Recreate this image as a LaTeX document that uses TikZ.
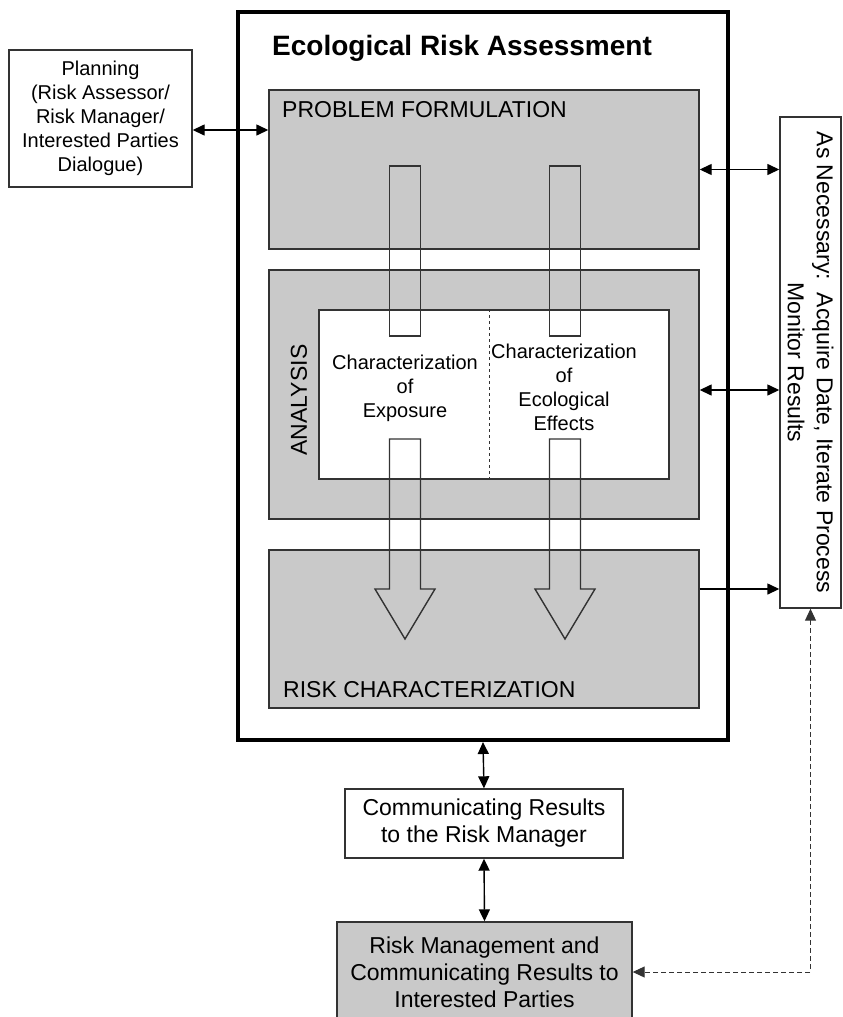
\documentclass[tikz,border=0pt]{standalone}
\usepackage{fontspec}
\setmainfont{Liberation Sans}
\usepackage{xcolor}
\colorlet{colPanel}{gray!42}
\colorlet{colLine}{black!80}
\usetikzlibrary{arrows.meta}

\begin{document}
\begin{tikzpicture}[x=1pt, y=-1pt, >={Triangle[length=12pt,width=11pt]},
	panel/.style={draw=colLine, line width=1.4pt, fill=colPanel, inner sep=0pt},
	plainbox/.style={draw=colLine, line width=1.4pt, fill=white, inner sep=0pt},
	txt/.style={font=\fontsize{20}{24}\selectfont, align=center, inner sep=0pt},
	dlink/.style={line width=1.4pt, <->}]
				\useasboundingbox (0,0) rectangle (843,1017);
				\node[draw=black, line width=4pt, minimum width=490, minimum height=728, inner sep=0pt] (era) at (483,376) {};
				\node[anchor=base west, inner sep=0pt, font={\bfseries\fontsize{28}{30}\selectfont}] (ttl) at (272,55) {Ecological Risk Assessment};
				\node[panel, minimum width=430, minimum height=159] (pf) at (484,169.5) {};
				\node[panel, minimum width=430, minimum height=249] (ana) at (484,394.5) {};
				\node[plainbox, minimum width=350, minimum height=169] (chr) at (494,394.5) {};
				\node[panel, minimum width=430, minimum height=158] (rc) at (484,629) {};
				\node[anchor=base west, inner sep=0pt, font=\fontsize{23}{27}\selectfont] (pft) at (282,117) {PROBLEM FORMULATION};
				\node[anchor=base west, inner sep=0pt, font=\fontsize{23}{27}\selectfont] (rct) at (283,697) {RISK CHARACTERIZATION};
				\node[rotate=90, inner sep=0pt, font=\fontsize{23}{27}\selectfont] (anat) at (299,400) {ANALYSIS};
				\draw[colLine, dashed, line width=0.8pt] ([xshift=-5pt]chr.north) -- ([xshift=-5pt]chr.south);
				\foreach \x in {405,565}{
					\draw[colLine, line width=1.4pt] (\x-15.5,166) rectangle (\x+15.5,336);
					\draw[colLine, line width=1.4pt] (\x-15.5,439) -- (\x-15.5,589) -- (\x-30,589) -- (\x,639)
						-- (\x+30,589) -- (\x+15.5,589) -- (\x+15.5,439) -- cycle;
				}
				\node[txt] (expo) at (405,388) {Characterization\\of\\Exposure};
				\node[txt] (effc) at (564,387) {Characterization\\of\\Ecological\\Effects};
				\node[plainbox, minimum width=61, minimum height=491] (asn) at (810.5,362.5) {};
				\node[rotate=-90, inner sep=0pt, align=center, font=\fontsize{23}{29}\selectfont] (asnt) at (asn.center)
					{As Necessary:\ \ Acquire Date, Iterate Process\\Monitor Results};
				\node[plainbox, minimum width=183, minimum height=137, font=\fontsize{20}{24}\selectfont, align=center] (plan) at (100.5,118.5)
					{Planning\\(Risk Assessor/\\Risk Manager/\\Interested Parties\\Dialogue)};
				\node[plainbox, minimum width=278, minimum height=69, font=\fontsize{23}{27}\selectfont, align=center] (comm) at (484,823.5)
					{Communicating Results\\to the Risk Manager};
				\node[panel, minimum width=295, minimum height=100, font=\fontsize{23}{27}\selectfont, align=center] (mgmt) at (484.5,972)
					{Risk Management and\\Communicating Results to\\Interested Parties};
				\draw[dlink] ([yshift=-11.5pt]plan.east) -- ([yshift=-11.5pt]plan.east -| pf.west);
				\draw[dlink] (pf.east) -- (pf.east -| asn.west);
				\draw[dlink] ([yshift=4.5pt]ana.east) -- ([yshift=4.5pt]ana.east -| asn.west);
				\draw[line width=1.4pt, ->] ([yshift=40pt]rc.east) -- ([yshift=40pt]rc.east -| asn.west);
				\draw[dlink] (era.south) -- (comm.north);
				\draw[dlink] (comm.south) -- (mgmt.north);
				\draw[<->, colLine, line width=1pt, dash pattern=on 5pt off 3pt] (asn.south) |- (mgmt.east);
\end{tikzpicture}
\end{document}
